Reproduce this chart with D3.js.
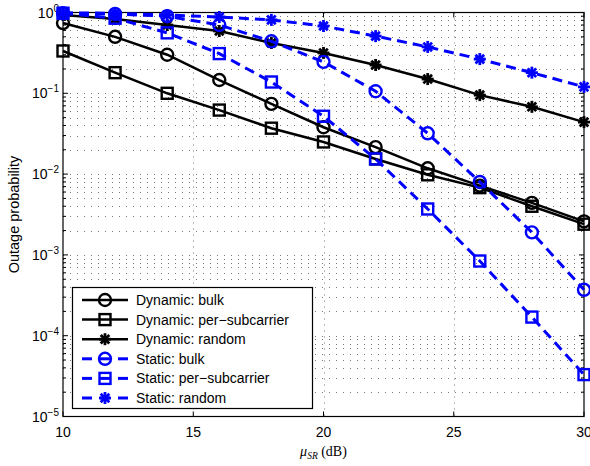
<!DOCTYPE html>
<html>
<head>
<meta charset="utf-8">
<script src="https://cdn.jsdelivr.net/npm/d3@7"></script>
<style>
  body { margin: 0; background: #fff; }
  svg { display: block; }
</style>
</head>
<body>
<div id="chart"></div>
<script>
// SNR points (dB)
var snr = [10, 12, 14, 16, 18, 20, 22, 24, 26, 28, 30];

// outage probability
var dynBulk = [0.74, 0.50, 0.30, 0.146, 0.074, 0.038, 0.0216, 0.0118, 0.0072, 0.0044, 0.0026];
var dynPerSub = [0.334, 0.18, 0.10, 0.062, 0.037, 0.025, 0.0154, 0.0098, 0.0068, 0.0040, 0.0024];
var dynRandom = [0.93, 0.83, 0.70, 0.59, 0.42, 0.316, 0.224, 0.150, 0.095, 0.068, 0.044];
var statBulk = [0.98, 0.96, 0.90, 0.70, 0.44, 0.245, 0.106, 0.032, 0.0080, 0.0019, 0.00037];
var statPerSub = [0.98, 0.85, 0.56, 0.31, 0.138, 0.052, 0.0154, 0.0037, 0.00084, 0.00017, 0.000033];
var statRandom = [0.99, 0.98, 0.93, 0.88, 0.81, 0.68, 0.51, 0.375, 0.265, 0.18, 0.12];

var seriesNames = ["Dynamic: bulk", "Dynamic: per\u2212subcarrier", "Dynamic: random",
                   "Static: bulk", "Static: per\u2212subcarrier", "Static: random"];
var seriesData = [dynBulk, dynPerSub, dynRandom, statBulk, statPerSub, statRandom];
var seriesMarker = ["circle", "square", "star", "circle", "square", "star"];

var xTicks = [10, 15, 20, 25, 30];
var yExps = [0, -1, -2, -3, -4, -5];

var W = 590, H = 466;
var pLeft = 63, pRight = 584, pTop = 12.5, pBottom = 416.5;

var svg = d3.select("#chart").append("svg")
    .attr("width", W).attr("height", H);

var x = d3.scaleLinear().domain([10, 30]).range([pLeft, pRight]);
var y = d3.scaleLog().domain([1e-5, 1]).range([pBottom, pTop]);

// grid: dotted at every log tick and major x ticks
var minorVals = [];
for (var e = -5; e < 0; e++) {
    for (var m = 1; m <= 9; m++) minorVals.push(m * Math.pow(10, e));
}
minorVals.push(1);

var grid = svg.append("g");
grid.selectAll("line.hg")
    .data(minorVals.filter(function (v) { return v > 1.01e-5 && v < 0.99; }))
    .enter().append("line")
    .attr("x1", pLeft).attr("x2", pRight)
    .attr("y1", function (d) { return Math.round(y(d)) + 0.5; })
    .attr("y2", function (d) { return Math.round(y(d)) + 0.5; })
    .attr("stroke", "#555").attr("stroke-width", 0.8)
    .attr("stroke-dasharray", "1,6");
grid.selectAll("line.vg")
    .data([15, 20, 25])
    .enter().append("line")
    .attr("y1", pTop).attr("y2", pBottom)
    .attr("x1", function (d) { return Math.round(x(d)) + 0.5; })
    .attr("x2", function (d) { return Math.round(x(d)) + 0.5; })
    .attr("stroke", "#555").attr("stroke-width", 0.8)
    .attr("stroke-dasharray", "1,5");

// axes box
svg.append("rect")
    .attr("x", pLeft).attr("y", pTop)
    .attr("width", pRight - pLeft).attr("height", pBottom - pTop)
    .attr("fill", "none").attr("stroke", "#000").attr("stroke-width", 1.2);

// ticks
var tk = svg.append("g").attr("stroke", "#000").attr("stroke-width", 1);
minorVals.forEach(function (v) {
    var major = Math.abs(Math.log10(v) - Math.round(Math.log10(v))) < 1e-9;
    var len = major ? 5 : 3;
    var yy = y(v);
    tk.append("line").attr("x1", pLeft).attr("x2", pLeft + len).attr("y1", yy).attr("y2", yy);
    tk.append("line").attr("x1", pRight).attr("x2", pRight - len).attr("y1", yy).attr("y2", yy);
});
xTicks.forEach(function (t) {
    tk.append("line").attr("x1", x(t)).attr("x2", x(t)).attr("y1", pBottom).attr("y2", pBottom - 5);
    tk.append("line").attr("x1", x(t)).attr("x2", x(t)).attr("y1", pTop).attr("y2", pTop + 5);
});

// tick labels
var font = "Liberation Sans, Arial, sans-serif";
svg.selectAll("text.xt")
    .data(xTicks)
    .enter().append("text")
    .attr("x", function (d) { return x(d); })
    .attr("y", 437)
    .attr("text-anchor", "middle")
    .attr("font-family", font).attr("font-size", 14)
    .text(function (d) { return d; });

yExps.forEach(function (e) {
    var yy = y(Math.pow(10, e));
    var t = svg.append("text")
        .attr("x", 59).attr("y", yy + 5)
        .attr("text-anchor", "end")
        .attr("font-family", font).attr("font-size", 14);
    t.append("tspan").text("10");
    t.append("tspan").attr("dy", -6).attr("font-size", 10)
        .text(e == 0 ? "0" : "\u2212" + (-e));
});

// axis titles
svg.append("text")
    .attr("transform", "translate(19," + ((pTop + pBottom) / 2) + ") rotate(-90)")
    .attr("text-anchor", "middle")
    .attr("font-family", font).attr("font-size", 14.5)
    .text("Outage probability");

var xl = svg.append("text")
    .attr("x", (pLeft + pRight) / 2).attr("y", 456)
    .attr("text-anchor", "middle")
    .attr("font-family", "Liberation Serif, Times New Roman, serif").attr("font-size", 14);
xl.append("tspan").attr("font-style", "italic").text("\u03bc");
xl.append("tspan").attr("font-style", "italic").attr("font-size", 9.5).attr("dy", 3).text("SR");
xl.append("tspan").attr("dy", -3).text(" (dB)");

// markers
function drawMarker(g, type, cx, cy, color) {
    if (type == "circle") {
        g.append("circle").attr("cx", cx).attr("cy", cy).attr("r", 6)
            .attr("fill", "none").attr("stroke", color).attr("stroke-width", 2.4);
    } else if (type == "square") {
        g.append("rect").attr("x", cx - 5.5).attr("y", cy - 5.5)
            .attr("width", 11).attr("height", 11)
            .attr("fill", "none").attr("stroke", color).attr("stroke-width", 2.4);
    } else {
        var r = 6, d = 4.3;
        var segs = [[-r, 0, r, 0], [0, -r, 0, r], [-d, -d, d, d], [-d, d, d, -d]];
        segs.forEach(function (s) {
            g.append("line")
                .attr("x1", cx + s[0]).attr("y1", cy + s[1])
                .attr("x2", cx + s[2]).attr("y2", cy + s[3])
                .attr("stroke", color).attr("stroke-width", 2.8);
        });
    }
}

var line = d3.line()
    .x(function (d, i) { return x(snr[i]); })
    .y(function (d) { return y(d); });

for (var i = 0; i < seriesData.length; i++) {
    var isStatic = i >= 3;
    var color = isStatic ? "#0000ff" : "#000000";
    var g = svg.append("g");
    g.append("path")
        .attr("d", line(seriesData[i]))
        .attr("fill", "none")
        .attr("stroke", color)
        .attr("stroke-width", isStatic ? 3 : 2.5)
        .attr("stroke-dasharray", isStatic ? "10,6" : null);
    for (var j = 0; j < snr.length; j++) {
        drawMarker(g, seriesMarker[i], x(snr[j]), y(seriesData[i][j]), color);
    }
}

// legend
var lg = svg.append("g");
lg.append("rect")
    .attr("x", 72.5).attr("y", 287.5)
    .attr("width", 240).attr("height", 121)
    .attr("fill", "#fff").attr("stroke", "#000").attr("stroke-width", 1.2);
for (var i = 0; i < seriesNames.length; i++) {
    var ly = 300 + i * 19.6;
    var isStatic = i >= 3;
    var color = isStatic ? "#0000ff" : "#000000";
    if (isStatic) {
        lg.append("line").attr("x1", 82).attr("x2", 92).attr("y1", ly).attr("y2", ly)
            .attr("stroke", color).attr("stroke-width", 3);
        lg.append("line").attr("x1", 118).attr("x2", 128).attr("y1", ly).attr("y2", ly)
            .attr("stroke", color).attr("stroke-width", 3);
        lg.append("line").attr("x1", 100).attr("x2", 110).attr("y1", ly).attr("y2", ly)
            .attr("stroke", color).attr("stroke-width", 3);
    } else {
        lg.append("line").attr("x1", 82).attr("x2", 128).attr("y1", ly).attr("y2", ly)
            .attr("stroke", color).attr("stroke-width", 2.5);
    }
    drawMarker(lg, seriesMarker[i], 105, ly, color);
    lg.append("text")
        .attr("x", 136).attr("y", ly + 5)
        .attr("font-family", font).attr("font-size", 14)
        .text(seriesNames[i]);
}
</script>
</body>
</html>
